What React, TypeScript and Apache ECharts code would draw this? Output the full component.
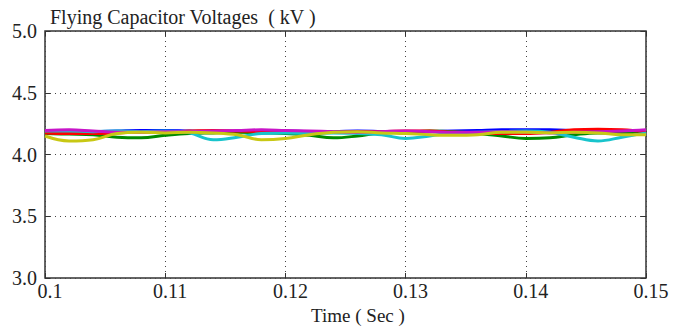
import React, { useEffect, useRef } from "react";
import * as echarts from "echarts";

const times: number[] = [
  0.1, 0.102, 0.104, 0.106, 0.108, 0.11, 0.112, 0.114, 0.116, 0.118, 0.12, 0.122, 0.124,
  0.126, 0.128, 0.13, 0.132, 0.134, 0.136, 0.138, 0.14, 0.142, 0.144, 0.146, 0.148, 0.15,
];

const blueV = [4.19, 4.185, 4.185, 4.19, 4.195, 4.195, 4.19, 4.185, 4.185, 4.19, 4.19, 4.185, 4.185, 4.19, 4.185, 4.18, 4.185, 4.19, 4.195, 4.2, 4.2, 4.2, 4.195, 4.19, 4.19, 4.195];
const greenV = [4.17, 4.165, 4.16, 4.14, 4.135, 4.155, 4.17, 4.175, 4.18, 4.175, 4.17, 4.155, 4.135, 4.15, 4.175, 4.18, 4.19, 4.185, 4.17, 4.15, 4.13, 4.135, 4.16, 4.175, 4.175, 4.19];
const redV = [4.175, 4.17, 4.17, 4.175, 4.18, 4.18, 4.19, 4.195, 4.19, 4.185, 4.18, 4.18, 4.18, 4.185, 4.185, 4.19, 4.19, 4.18, 4.175, 4.17, 4.17, 4.18, 4.2, 4.205, 4.2, 4.185];
const cyanV = [4.19, 4.19, 4.185, 4.19, 4.185, 4.19, 4.175, 4.12, 4.14, 4.17, 4.175, 4.17, 4.175, 4.17, 4.16, 4.13, 4.15, 4.175, 4.18, 4.185, 4.19, 4.18, 4.14, 4.11, 4.14, 4.175];
const magentaV = [4.195, 4.2, 4.19, 4.18, 4.18, 4.185, 4.185, 4.19, 4.195, 4.2, 4.195, 4.19, 4.185, 4.18, 4.185, 4.19, 4.185, 4.18, 4.18, 4.185, 4.18, 4.175, 4.18, 4.185, 4.19, 4.2];
const yellowV = [4.15, 4.11, 4.12, 4.17, 4.18, 4.175, 4.18, 4.175, 4.16, 4.12, 4.13, 4.16, 4.18, 4.185, 4.175, 4.17, 4.16, 4.155, 4.16, 4.18, 4.18, 4.175, 4.18, 4.175, 4.16, 4.16];

const seriesList = [
  { name: "C1", color: "#0000ff", values: blueV },
  { name: "C2", color: "#008a00", values: greenV },
  { name: "C3", color: "#ff0000", values: redV },
  { name: "C4", color: "#18c4cc", values: cyanV },
  { name: "C5", color: "#c814c8", values: magentaV },
  { name: "C6", color: "#c8c814", values: yellowV },
];

const titleText = "Flying Capacitor Voltages  ( kV )";
const xName = "Time ( Sec )";

const FONT = "'Liberation Serif', 'DejaVu Serif', serif";

export default function App() {
  const ref = useRef<HTMLDivElement>(null);
  useEffect(() => {
    if (!ref.current) return;
    const chart = echarts.init(ref.current, undefined, { renderer: "svg" });
    const gridLine = { show: true, lineStyle: { color: "#444", type: [1, 4] as any, width: 1 } };
    chart.setOption({
      animation: false,
      backgroundColor: "#fff",
      title: {
        text: titleText,
        left: 45,
        top: 2,
        textStyle: { fontFamily: FONT, fontSize: 20, fontWeight: "normal", color: "#222" },
      },
      grid: {
        left: 45,
        right: 49,
        top: 31,
        bottom: 48,
        outerBoundsMode: "none",
        containLabel: false,
        show: true,
        borderColor: "#333",
        borderWidth: 1.5,
        backgroundColor: "#fff",
      },
      xAxis: [
        {
          type: "value",
          min: 0.1,
          max: 0.15,
          interval: 0.01,
          name: xName,
          nameLocation: "middle",
          nameGap: 17,
          nameTextStyle: { fontFamily: FONT, fontSize: 19, color: "#222", padding: [0, 0, 0, 25] },
          axisLine: { show: false },
          axisTick: { show: true, inside: true, length: 5, lineStyle: { color: "#333" } },
          axisLabel: {
            fontFamily: FONT,
            fontSize: 20,
            color: "#222",
            margin: 3,
            padding: [0, 0, 0, 10],
            formatter: (v: number) => String(Math.round(v * 1000) / 1000),
          },
          splitLine: gridLine,
        },
        {
          type: "value",
          position: "top",
          min: 0.1,
          max: 0.15,
          interval: 0.01,
          axisLine: { show: false },
          axisTick: { show: true, inside: true, length: 5, lineStyle: { color: "#333" } },
          axisLabel: { show: false },
          splitLine: { show: false },
        },
      ],
      yAxis: [
        {
          type: "value",
          min: 3.0,
          max: 5.0,
          interval: 0.5,
          axisLine: { show: false },
          axisTick: { show: true, inside: true, length: 5, lineStyle: { color: "#333" } },
          axisLabel: {
            fontFamily: FONT,
            fontSize: 20,
            color: "#222",
            margin: 8,
            formatter: (v: number) => v.toFixed(1),
          },
          splitLine: gridLine,
        },
        {
          type: "value",
          position: "right",
          min: 3.0,
          max: 5.0,
          interval: 0.5,
          axisLine: { show: false },
          axisTick: { show: true, inside: true, length: 5, lineStyle: { color: "#333" } },
          axisLabel: { show: false },
          splitLine: { show: false },
        },
      ],
      series: seriesList.map((s) => ({
        name: s.name,
        type: "line",
        xAxisIndex: 0,
        yAxisIndex: 0,
        data: times.map((t, i) => [t, s.values[i]]),
        smooth: 0.4,
        showSymbol: false,
        lineStyle: { color: s.color, width: 3 },
        itemStyle: { color: s.color },
      })),
    });
    return () => chart.dispose();
  }, []);
  return (
    <div
      ref={ref}
      style={{ position: "absolute", left: 0, top: 0, width: 695, height: 326 }}
    />
  );
}
